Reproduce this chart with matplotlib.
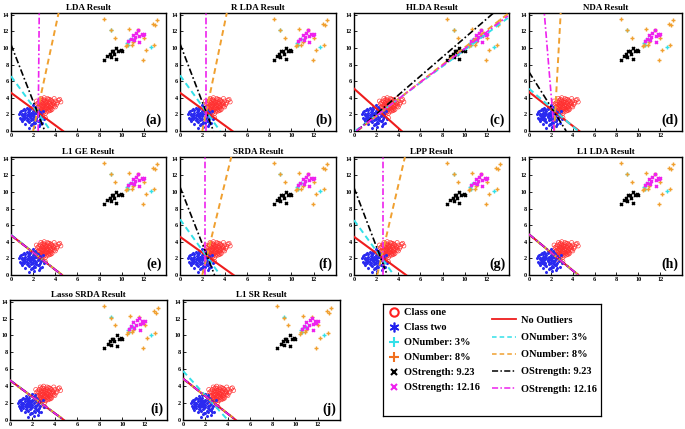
import matplotlib.pyplot as plt
from matplotlib.lines import Line2D

plt.rcParams['font.family'] = ['Liberation Serif', 'DejaVu Serif']
plt.rcParams['font.weight'] = 'bold'

# class samples
c1_x = [2.2, 2.4, 2.5, 2.6, 2.6, 2.7, 2.7, 2.8, 2.8, 2.9, 2.9, 3.0, 3.0, 3.0, 3.1, 3.1, 3.2, 3.2, 3.3, 3.3,
        3.4, 3.4, 3.5, 3.5, 3.6, 3.6, 3.7, 3.8, 3.9, 4.0, 4.1, 4.3, 4.5, 2.3, 2.5, 2.7, 2.9, 3.1, 3.3, 3.5,
        3.7, 2.6, 2.8, 3.0, 3.2, 3.4, 2.4, 3.0, 3.6, 2.9, 3.2, 2.7, 3.5, 3.9, 3.1,
        2.3, 2.6, 2.8, 3.0, 3.2, 3.4, 3.6, 3.8, 4.2, 4.4, 2.5, 2.7, 2.9, 3.1, 3.3, 3.5, 3.7, 4.0, 2.8, 3.0,
        3.3, 3.6, 2.6, 3.1, 3.9]
c1_y = [2.9, 3.3, 2.4, 3.6, 2.8, 3.1, 2.2, 3.4, 2.6, 3.0, 3.8, 2.5, 3.2, 4.0, 2.9, 3.5, 2.3, 3.1, 2.7, 3.6,
        3.0, 2.4, 3.3, 2.8, 3.7, 3.1, 2.6, 3.4, 3.0, 3.6, 3.2, 3.7, 3.5, 2.5, 2.9, 2.7, 3.3, 2.1, 3.9, 3.5,
        3.2, 1.9, 3.0, 2.7, 3.4, 2.6, 2.2, 3.7, 2.9, 2.4, 2.8, 3.9, 3.8, 3.3, 1.6,
        3.6, 3.2, 2.4, 3.5, 2.8, 3.8, 2.5, 3.1, 3.4, 3.8, 3.4, 2.9, 2.2, 3.3, 3.2, 2.5, 3.6, 2.9, 3.7, 2.3,
        3.0, 2.7, 2.5, 2.6, 3.9]
c2_x = [0.7, 0.8, 0.9, 1.0, 1.0, 1.1, 1.2, 1.2, 1.3, 1.3, 1.4, 1.4, 1.5, 1.5, 1.6, 1.6, 1.7, 1.7, 1.8, 1.8,
        1.9, 1.9, 2.0, 2.0, 2.1, 2.1, 2.2, 2.2, 2.3, 2.3, 2.4, 2.5, 2.6, 2.7, 2.8, 3.0, 1.1, 1.4, 1.7, 2.0,
        2.3, 2.6, 1.2, 1.5, 1.8, 2.1, 2.4, 1.6, 1.9, 2.2, 0.9, 1.3, 2.5, 2.0, 1.7,
        0.8, 1.0, 1.2, 1.4, 1.6, 1.8, 2.0, 2.2, 2.4, 2.6, 2.9, 1.1, 1.3, 1.5, 1.7, 1.9, 2.1, 2.3, 2.5, 1.0,
        1.5, 2.0, 2.7, 1.8, 2.2]
c2_y = [2.0, 1.6, 2.4, 1.2, 2.1, 1.8, 2.6, 1.4, 2.2, 0.9, 1.9, 2.8, 1.5, 2.3, 1.1, 2.0, 1.7, 2.6, 1.3, 2.2,
        0.8, 1.9, 1.5, 2.4, 1.1, 2.0, 1.7, 2.9, 1.3, 2.2, 1.8, 0.6, 1.4, 2.1, 1.0, 1.5, 1.6, 1.3, 2.9, 1.8,
        2.6, 2.3, 2.0, 1.9, 1.6, 0.5, 1.2, 0.4, 2.1, 1.0, 1.4, 2.5, 1.9, 3.1, 1.8,
        2.3, 1.5, 1.9, 1.6, 2.4, 1.9, 0.8, 1.4, 2.5, 0.9, 2.4, 2.5, 1.7, 1.2, 2.1, 1.4, 2.7, 1.6, 1.2, 1.9,
        2.6, 2.2, 1.7, 0.7, 2.4]

# outliers
on3_x = [9.0, 10.5, 10.7, 10.9, 12.6, 10.6]
on3_y = [12.2, 10.6, 10.9, 11.1, 10.1, 10.4]
on8_x = [8.4, 9.0, 9.4, 10.4, 10.5, 10.7, 10.9, 11.0, 11.5, 12.0, 12.2, 11.9, 12.8, 13.0, 13.2, 12.9]
on8_y = [13.5, 12.1, 11.2, 10.2, 10.4, 12.3, 10.4, 10.7, 12.2, 11.2, 9.7, 8.5, 12.9, 12.7, 13.3, 10.3]
os9_x = [8.4, 8.7, 8.9, 9.0, 9.2, 9.5, 9.5, 9.7, 9.9, 10.0, 9.3, 9.1]
os9_y = [8.5, 9.0, 9.3, 8.9, 9.6, 10.0, 8.7, 9.6, 9.7, 9.6, 9.3, 9.6]
os12_x = [10.6, 10.8, 11.0, 11.2, 11.3, 11.5, 11.6, 11.8, 11.9, 12.0, 11.6, 11.1]
os12_y = [10.8, 11.1, 11.6, 11.3, 11.8, 12.1, 11.4, 11.7, 11.5, 11.7, 10.7, 10.9]

titles = ['LDA Result', 'R LDA Result', 'HLDA Result', 'NDA Result', 'L1 GE Result',
          'SRDA Result', 'LPP Result', 'L1 LDA Result', 'Lasso SRDA Result', 'L1 SR Result']
tags = ['(a)', '(b)', '(c)', '(d)', '(e)', '(f)', '(g)', '(h)', '(i)', '(j)']

# boundary lines (x0, y0, x1, y1): no outliers, ONumber 3%, ONumber 8%, OStrength 9.23, OStrength 12.16
lines_a = [(0, 4.6, 4.7, 0), (0, 6.6, 3.6, 0), (2.0, 0, 4.3, 14.2), (0, 10.4, 3.05, 0), (2.45, 0, 2.55, 14.2)]
lines_b = [(0, 4.6, 4.7, 0), (0, 6.7, 3.6, 0), (2.0, 0, 4.2, 14.2), (0, 10.5, 3.0, 0), (2.3, 0, 2.3, 14.2)]
lines_c = [(0, 5.1, 4.3, 0), (0.1, 0, 13.9, 13.6), (0.3, 0, 13.9, 14.1), (0.25, 0, 12.6, 14.2), (0.2, 0, 13.9, 13.85)]
lines_d = [(0, 4.7, 4.6, 0), (0, 5.1, 4.5, 0), (2.3, 0, 2.9, 14.2), (0, 7.1, 3.4, 0), (2.3, 0, 1.4, 14.2)]
lines_e = [(0, 4.8, 4.6, 0), (0, 4.85, 4.6, 0), (0, 4.75, 4.65, 0), (0, 4.8, 4.6, 0), (0, 4.8, 4.6, 0)]
lines_f = [(0, 4.6, 4.8, 0), (0, 6.7, 3.6, 0), (2.0, 0, 4.6, 14.2), (0, 10.6, 3.1, 0), (2.2, 0, 2.2, 14.2)]
lines_g = [(0, 4.6, 4.7, 0), (0, 6.6, 3.6, 0), (2.1, 0, 4.6, 14.2), (0, 10.5, 3.0, 0), (2.6, 0, 2.6, 14.2)]
lines_h = [(0, 4.9, 4.5, 0), (0, 4.9, 4.5, 0), (0, 4.85, 4.55, 0), (0, 4.9, 4.5, 0), (0, 4.9, 4.5, 0)]
lines_i = [(0, 4.7, 4.8, 0), (0, 4.7, 4.8, 0), (0, 4.65, 4.85, 0), (0, 4.7, 4.8, 0), (0, 4.7, 4.8, 0)]
lines_j = [(0, 4.9, 4.7, 0), (0, 5.8, 4.0, 0), (0, 4.85, 4.75, 0), (0, 4.9, 4.7, 0), (0, 4.9, 4.7, 0)]
all_lines = [lines_a, lines_b, lines_c, lines_d, lines_e, lines_f, lines_g, lines_h, lines_i, lines_j]

line_styles = [
    dict(color='#ee1c1c', lw=1.5, ls='-'),
    dict(color='#33e0e8', lw=1.4, ls=(0, (3, 2))),
    dict(color='#f0a030', lw=1.4, ls=(0, (3, 2))),
    dict(color='black', lw=1.2, ls=(0, (4, 1.5, 1, 1.5))),
    dict(color='#ee22ee', lw=1.2, ls=(0, (4, 1.5, 1, 1.5))),
]
line_labels = ['No Outliers', 'ONumber: 3%', 'ONumber: 8%', 'OStrength: 9.23', 'OStrength: 12.16']

W, H = 685, 429
# axes boxes in pixels: left, right, top, bottom
boxes = [(11, 166, 13, 131), (180, 336, 13, 131), (354, 509, 13, 131), (529, 682, 13, 131),
         (11, 166, 157, 275), (180, 336, 157, 275), (354, 509, 157, 275), (529, 682, 157, 275),
         (10, 167, 300, 420), (183, 340, 300, 420)]

fig = plt.figure(figsize=(6.85, 4.29), dpi=100)

asterisk = (6, 2, 0)

for k, (l, r, t, b) in enumerate(boxes):
    ax = fig.add_axes([l / W, 1 - b / H, (r - l) / W, (b - t) / H])
    ax.scatter(c1_x, c1_y, s=9, facecolors='none', edgecolors='#ff3030', linewidths=0.45, zorder=2)
    ax.scatter(c2_x, c2_y, s=4, marker=asterisk, color='#2a2af0', linewidths=0.4, zorder=2)
    ax.scatter(on3_x, on3_y, s=6, marker='+', color='#33e0e8', linewidths=1.0, zorder=3)
    ax.scatter(on8_x, on8_y, s=6, marker='+', color='#f0a030', linewidths=1.0, zorder=3)
    ax.scatter(os9_x, os9_y, s=4, marker='x', color='black', linewidths=1.4, zorder=3)
    ax.scatter(os12_x, os12_y, s=4, marker='x', color='#ee22ee', linewidths=1.4, zorder=3)
    for (x0, y0, x1, y1), st in zip(all_lines[k], line_styles):
        ax.plot([x0, x1], [y0, y1], zorder=4, **st)
    ax.set_xlim(0, 14)
    ax.set_ylim(0, 14.2)
    ax.set_xticks(range(0, 13, 2))
    ax.set_yticks(range(0, 15, 2))
    ax.tick_params(direction='in', length=2, width=0.6, labelsize=4.5, pad=1.5)
    for sp in ax.spines.values():
        sp.set_linewidth(1.0)
    ax.set_title(titles[k], fontsize=6.5, fontweight='bold', pad=2.5)
    ax.text(0.975, 0.035, tags[k], transform=ax.transAxes, ha='right', va='bottom',
            fontsize=10, fontweight='bold')

# legend box
lax = fig.add_axes([383 / W, 1 - 416 / H, (601 - 383) / W, (416 - 304) / H])
lax.set_xticks([])
lax.set_yticks([])
for sp in lax.spines.values():
    sp.set_linewidth(0.9)

pt_handles = [
    Line2D([], [], ls='none', marker='o', mfc='none', mec='#ff2020', ms=6, mew=1.5),
    Line2D([], [], ls='none', marker=asterisk, color='#1f1fee', ms=7, mew=1.2),
    Line2D([], [], ls='none', marker='+', color='#33e0e8', ms=7, mew=1.5),
    Line2D([], [], ls='none', marker='+', color='#f07020', ms=7, mew=1.5),
    Line2D([], [], ls='none', marker='x', color='black', ms=5, mew=1.5),
    Line2D([], [], ls='none', marker='x', color='#ee22ee', ms=5, mew=1.5),
]
pt_labels = ['Class one', 'Class two', 'ONumber: 3%', 'ONumber: 8%', 'OStrength: 9.23', 'OStrength: 12.16']
leg1 = lax.legend(pt_handles, pt_labels, loc='upper left', bbox_to_anchor=(0.0, 1.02), frameon=False,
                  prop={'size': 7.5, 'weight': 'bold'}, handlelength=1.0, handletextpad=0.4,
                  labelspacing=0.55, borderaxespad=0.2)
lax.add_artist(leg1)

ln_handles = [Line2D([], [], **st) for st in line_styles]
ln_handles[0].set_linewidth(1.3)
for h in ln_handles[1:]:
    h.set_linewidth(1.1)
lax.legend(ln_handles, line_labels, loc='upper left', bbox_to_anchor=(0.47, 0.95), frameon=False,
           prop={'size': 7.5, 'weight': 'bold'}, handlelength=2.3, handletextpad=0.5,
           labelspacing=0.75, borderaxespad=0.2)

fig.savefig('out.png', dpi=100)
